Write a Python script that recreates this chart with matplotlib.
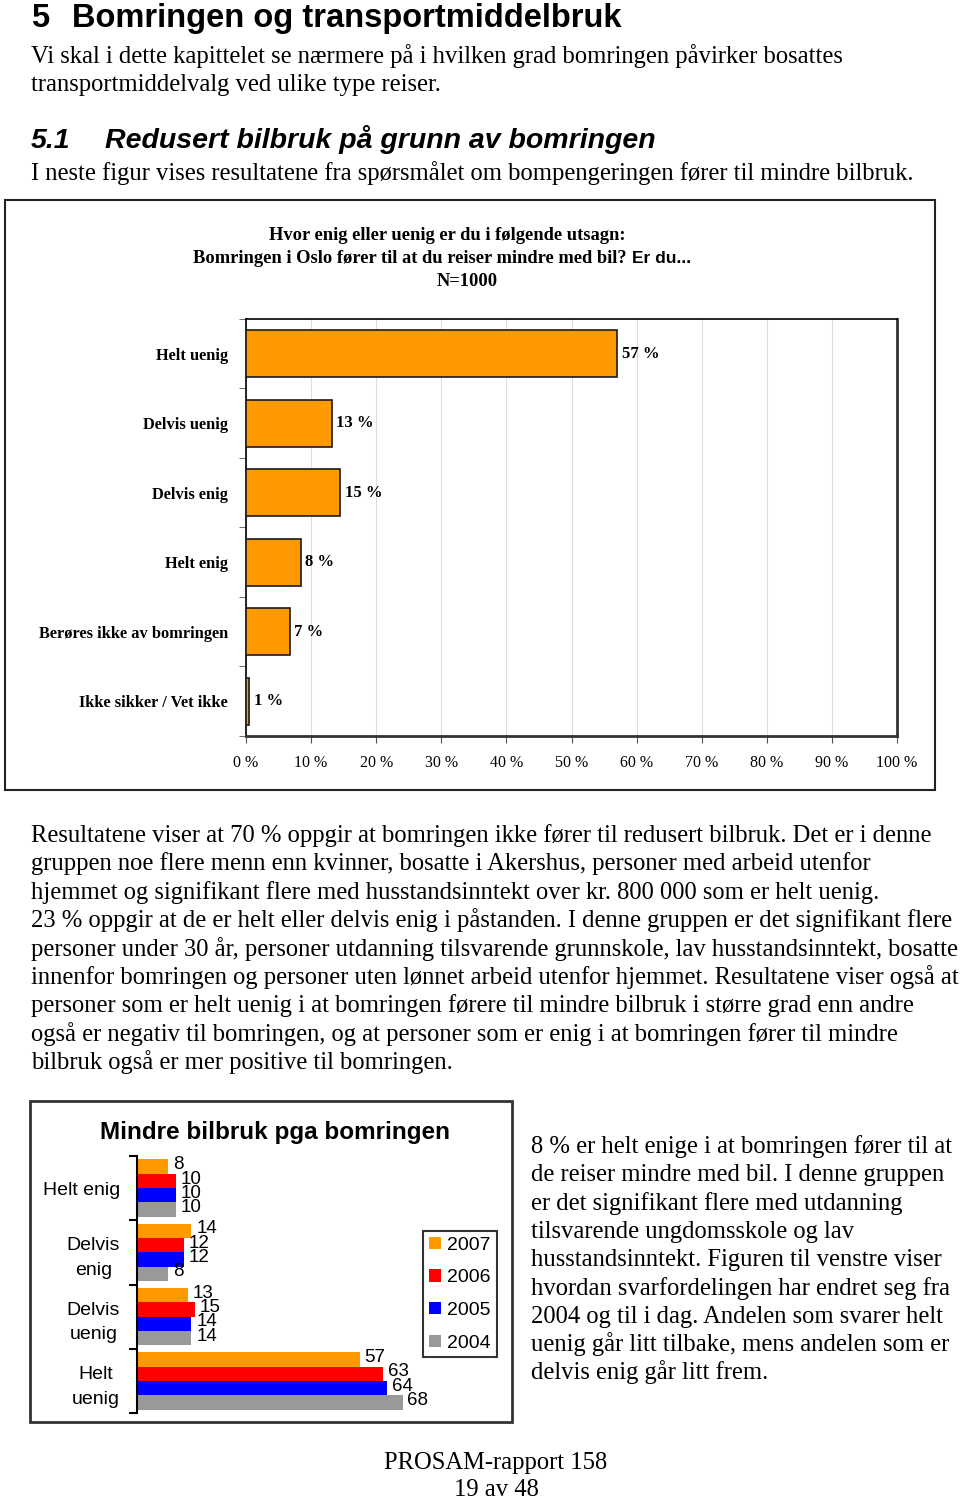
import matplotlib
matplotlib.use("Agg")
import matplotlib.pyplot as plt
from matplotlib.patches import Rectangle
import numpy as np

W, H = 960, 1499
SERIF = "Liberation Serif"
SANS = "Liberation Sans"
BODY = 17.75

# chart 1: "Hvor enig eller uenig ..." (N=1000)
answers = ["Helt uenig", "Delvis uenig", "Delvis enig", "Helt enig",
           "Berøres ikke av bomringen", "Ikke sikker / Vet ikke"]
shares = [57.0, 13.2, 14.5, 8.4, 6.7, 0.5]
share_labels = ["57 %", "13 %", "15 %", "8 %", "7 %", "1 %"]
pct_ticks = [0, 10, 20, 30, 40, 50, 60, 70, 80, 90, 100]

# chart 2: "Mindre bilbruk pga bomringen"
groups = ["Helt enig", "Delvis\nenig", "Delvis\nuenig", "Helt\nuenig"]
years = ["2007", "2006", "2005", "2004"]
values_2007 = [8, 14, 13, 57]
values_2006 = [10, 12, 15, 63]
values_2005 = [10, 12, 14, 64]
values_2004 = [10, 8, 14, 68]
year_colors = ["#FF9900", "#FF0000", "#0000FF", "#999999"]

heading = "Bomringen og transportmiddelbruk"
intro = ["Vi skal i dette kapittelet se nærmere på i hvilken grad bomringen påvirker bosattes",
         "transportmiddelvalg ved ulike type reiser."]
sub_heading = "Redusert bilbruk på grunn av bomringen"
sub_intro = "I neste figur vises resultatene fra spørsmålet om bompengeringen fører til mindre bilbruk."
body = [
    "Resultatene viser at 70 % oppgir at bomringen ikke fører til redusert bilbruk. Det er i denne",
    "gruppen noe flere menn enn kvinner, bosatte i Akershus, personer med arbeid utenfor",
    "hjemmet og signifikant flere med husstandsinntekt over kr. 800 000 som er helt uenig.",
    "23 % oppgir at de er helt eller delvis enig i påstanden. I denne gruppen er det signifikant flere",
    "personer under 30 år, personer utdanning tilsvarende grunnskole, lav husstandsinntekt, bosatte",
    "innenfor bomringen og personer uten lønnet arbeid utenfor hjemmet. Resultatene viser også at",
    "personer som er helt uenig i at bomringen førere til mindre bilbruk i større grad enn andre",
    "også er negativ til bomringen, og at personer som er enig i at bomringen fører til mindre",
    "bilbruk også er mer positive til bomringen.",
]
side_text = [
    "8 % er helt enige i at bomringen fører til at",
    "de reiser mindre med bil. I denne gruppen",
    "er det signifikant flere med utdanning",
    "tilsvarende ungdomsskole og lav",
    "husstandsinntekt. Figuren til venstre viser",
    "hvordan svarfordelingen har endret seg fra",
    "2004 og til i dag. Andelen som svarer helt",
    "uenig går litt tilbake, mens andelen som er",
    "delvis enig går litt frem.",
]


def fx(x):
    return x / W


def fy(y):
    return 1 - y / H


fig = plt.figure(figsize=(W / 100, H / 100), dpi=100)
fig.patch.set_facecolor("white")

# headings and text
fig.text(fx(31), fy(27), "5", family=SANS, weight="bold", fontsize=23.5)
fig.text(fx(72), fy(27), heading, family=SANS, weight="bold", fontsize=23.5)
for i, line in enumerate(intro):
    fig.text(fx(31), fy(63 + 28 * i), line, family=SERIF, fontsize=BODY)
fig.text(fx(31), fy(148), "5.1", family=SANS, weight="bold", style="italic", fontsize=20.5)
fig.text(fx(105), fy(148), sub_heading, family=SANS, weight="bold", style="italic", fontsize=20.5)
fig.text(fx(31), fy(180), sub_intro, family=SERIF, fontsize=BODY)

for i, line in enumerate(body):
    fig.text(fx(31), fy(842 + 28.4 * i), line, family=SERIF, fontsize=BODY)
for i, line in enumerate(side_text):
    fig.text(fx(531), fy(1153 + 28.3 * i), line, family=SERIF, fontsize=BODY)

fig.text(fx(496), fy(1469), "PROSAM-rapport 158", family=SERIF, fontsize=BODY, ha="center")
fig.text(fx(496), fy(1496), "19 av 48", family=SERIF, fontsize=BODY, ha="center")

# ---- chart 1 ----
fig.add_artist(Rectangle((fx(5), fy(790)), 930 / W, 590 / H, transform=fig.transFigure,
                         fill=False, lw=1.5, ec="#222222"))
fig.text(fx(447), fy(240), "Hvor enig eller uenig er du i følgende utsagn:",
         family=SERIF, weight="bold", fontsize=13.3, ha="center")
renderer = fig.canvas.get_renderer()
t_a = fig.text(0, fy(263), "Bomringen i Oslo fører til at du reiser mindre med bil? ",
               family=SERIF, weight="bold", fontsize=13.3)
t_b = fig.text(0, fy(263), "Er du...", family=SANS, weight="bold", fontsize=12.5)
wa = t_a.get_window_extent(renderer).width
wb = t_b.get_window_extent(renderer).width
x0 = 442 - (wa + wb) / 2
t_a.set_x(fx(x0))
t_b.set_x(fx(x0 + wa))
fig.text(fx(467), fy(286), "N=1000", family=SERIF, weight="bold", fontsize=13.3, ha="center")

ax1 = fig.add_axes([fx(246), fy(736), (897 - 246) / W, (736 - 319) / H])
pos = np.arange(len(answers))
ax1.barh(pos, shares, height=0.68, color="#FF9900", edgecolor="#1a1a1a", linewidth=1.2, zorder=3)
for p, v, lab in zip(pos, shares, share_labels):
    ax1.text(v + 0.7, p, lab, va="center", ha="left", family=SERIF, weight="bold", fontsize=12)
ax1.set_xlim(0, 100)
ax1.set_ylim(len(answers) - 0.5, -0.5)
ax1.set_xticks(pct_ticks)
ax1.set_xticklabels([f"{t} %" for t in pct_ticks], family=SERIF, fontsize=11.5)
ax1.set_yticks(pos)
ax1.set_yticklabels(answers, family=SERIF, weight="bold", fontsize=11.8)
ax1.set_yticks(np.arange(len(answers) + 1) - 0.5, minor=True)
ax1.tick_params(axis="y", which="major", length=0, pad=13)
ax1.tick_params(axis="y", which="minor", length=5, direction="out", color="#555555")
ax1.tick_params(axis="x", length=5, direction="out", pad=9, color="#555555")
ax1.xaxis.grid(True, color="#dddddd", lw=0.8, zorder=0)
ax1.set_axisbelow(True)
for side in ["left", "top"]:
    ax1.spines[side].set_linewidth(1.2)
for side in ["right", "bottom"]:
    ax1.spines[side].set_linewidth(2)
    ax1.spines[side].set_color("#333333")

# ---- chart 2 ----
fig.add_artist(Rectangle((fx(30), fy(1422)), 482 / W, 321 / H, transform=fig.transFigure,
                         fill=False, lw=2, ec="#333333"))
fig.text(fx(275), fy(1139), "Mindre bilbruk pga bomringen", family=SANS, weight="bold",
         fontsize=17.5, ha="center")

ax2 = fig.add_axes([fx(136.7), fy(1413), 313 / W, 257 / H])
series = [values_2007, values_2006, values_2005, values_2004]
gpos = np.arange(len(groups))
bh = 0.223
handles = []
for j, (vals, col) in enumerate(zip(series, year_colors)):
    yy = gpos + (j - 1.5) * bh
    b = ax2.barh(yy, vals, height=bh, color=col, edgecolor="none")
    handles.append(b)
    for y, v in zip(yy, vals):
        ax2.text(v + 1.2, y - 0.03, str(v), va="center", ha="left", family=SANS, fontsize=13.5)
ax2.set_xlim(0, 80)
ax2.set_ylim(len(groups) - 0.5, -0.5)
ax2.set_yticks(np.arange(len(groups) + 1) - 0.5)
ax2.set_yticklabels([])
ax2.set_yticks(gpos, minor=True)
ax2.set_yticklabels(groups, minor=True, family=SANS, fontsize=14, multialignment="center",
                    linespacing=1.6)
ax2.tick_params(axis="y", which="major", length=6, width=1.5, direction="out")
ax2.tick_params(axis="y", which="minor", length=0, pad=12)
ax2.set_xticks([])
for side in ["top", "right", "bottom"]:
    ax2.spines[side].set_visible(False)
ax2.spines["left"].set_linewidth(1.5)
ax2.patch.set_alpha(0)

leg = fig.legend(handles, years, loc="upper left", bbox_to_anchor=(fx(423), fy(1231)),
                 prop={"family": SANS, "size": 14}, frameon=True, fancybox=False,
                 edgecolor="black", handlelength=0.6, handleheight=0.6, handletextpad=0.35,
                 labelspacing=0.8, borderpad=0.3, borderaxespad=0)
leg.get_frame().set_linewidth(1.5)

fig.savefig("out.png", dpi=100, facecolor="white")
